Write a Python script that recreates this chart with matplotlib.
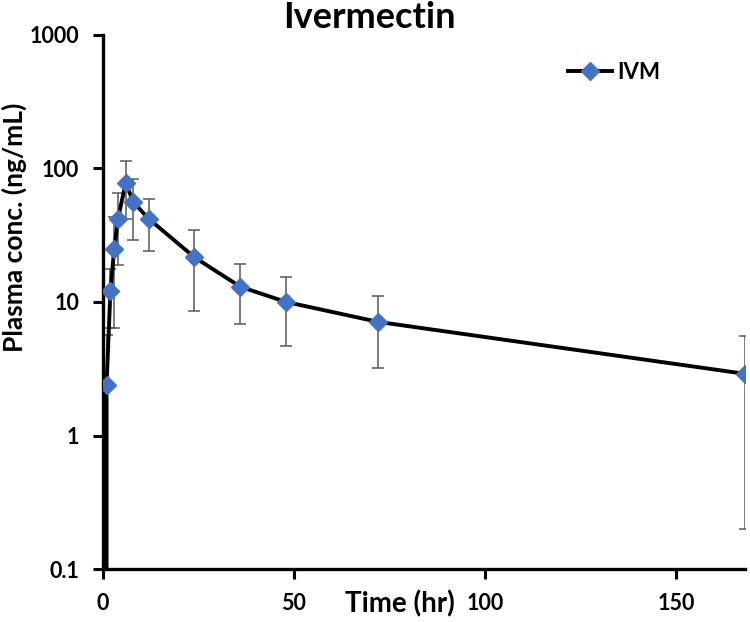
import numpy as np
import matplotlib
matplotlib.use('Agg')
import matplotlib.pyplot as plt
from matplotlib.ticker import FixedLocator, FixedFormatter, NullLocator

plt.rcParams['font.family'] = ['Lato', 'DejaVu Sans']

# data
time_hr = [0, 1, 2, 3, 4, 6, 8, 12, 24, 36, 48, 72, 168]
conc = [0, 2.4, 12, 25, 42, 78, 56, 42, 21.6, 13.0, 10.0, 7.1, 2.9]
err_low = [0, 0, 5.6, 18.6, 23, 36, 27, 18, 13, 6.2, 5.3, 3.9, 2.7]
err_high = [0, 3.3, 5.6, 18.6, 23, 36, 27, 17, 13, 6.2, 5.4, 3.9, 2.7]

yticks = [0.1, 1, 10, 100, 1000]
ytick_labels = ['0.1', '1', '10', '100', '1000']
xticks = [0, 50, 100, 150]

fig = plt.figure(figsize=(7.5, 6.22), dpi=100)
ax = fig.add_axes([0.137, 0.085, 0.856, 0.859])

ax.set_yscale('log', nonpositive='clip')

# error bars first (grey, thin)
ax.errorbar(time_hr, conc, yerr=[err_low, err_high], fmt='none',
            ecolor='#595959', elinewidth=1.1, capsize=4, capthick=1.1, zorder=2)
ax.plot(time_hr, conc, color='black', lw=2.8, marker='D', ms=9,
        mfc='#4472C4', mec='#4472C4', label='IVM', zorder=3)

ax.set_xlim(0, 168)
ax.set_ylim(0.1, 1000)

ax.yaxis.set_major_locator(FixedLocator(yticks))
ax.yaxis.set_major_formatter(FixedFormatter(ytick_labels))
ax.yaxis.set_minor_locator(NullLocator())
ax.set_xticks(xticks)

for s in ['top', 'right']:
    ax.spines[s].set_visible(False)
for s in ['left', 'bottom']:
    ax.spines[s].set_linewidth(2.4)

ax.tick_params(axis='both', direction='out', length=7, width=2.2,
               labelsize=15.5, pad=10)
for lab in ax.get_xticklabels() + ax.get_yticklabels():
    lab.set_fontweight('bold')

fig.text(0.493, 1 - 18 / 622, 'Ivermectin', ha='center', va='center',
         fontsize=26, fontweight='bold')
ax.set_ylabel('Plasma conc. (ng/mL)', fontsize=19, fontweight='bold')
ax.yaxis.set_label_coords(-0.118, 0.64)
ax.text(0.463, -0.040, 'Time (hr)', transform=ax.transAxes, ha='center',
        va='top', fontsize=20, fontweight='bold')

leg = ax.legend(loc='center left', bbox_to_anchor=(0.724, 0.93), frameon=False,
                fontsize=16, handlelength=2.0, handletextpad=0.25,
                borderpad=0, borderaxespad=0)
for t in leg.get_texts():
    t.set_fontweight('bold')

fig.savefig('out.png', dpi=100)
